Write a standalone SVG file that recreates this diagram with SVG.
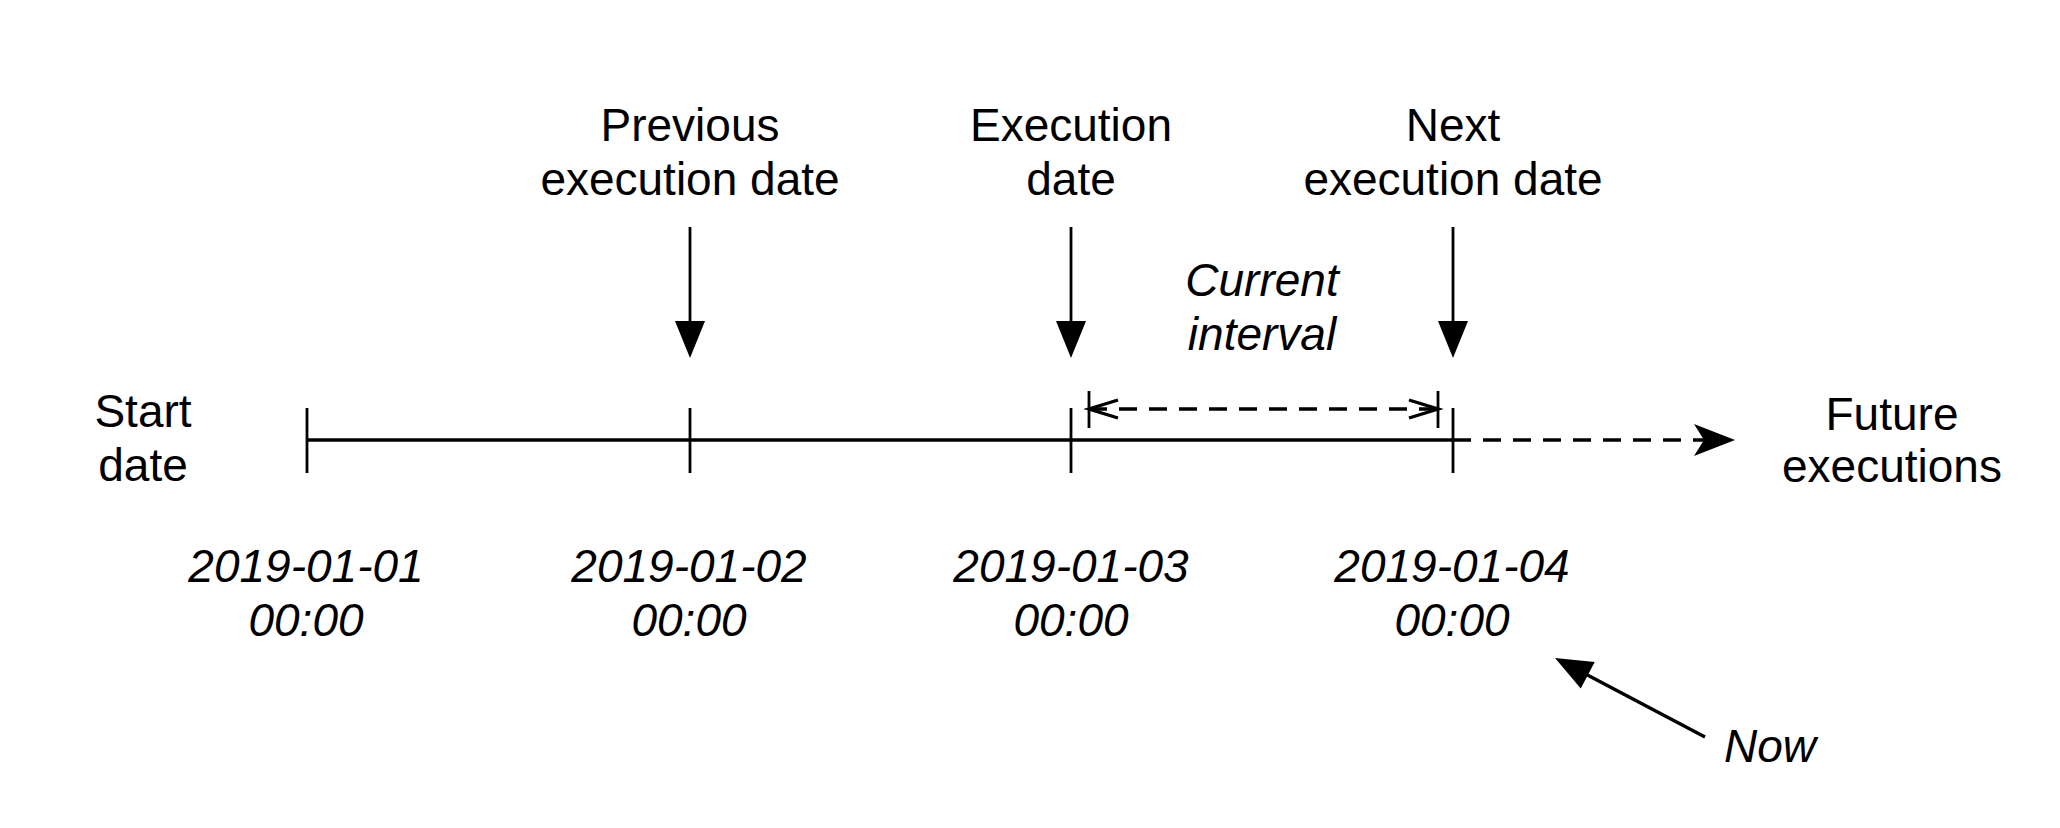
<svg xmlns="http://www.w3.org/2000/svg" width="2060" height="828" viewBox="0 0 2060 828">
  <style>
    .t { font-family: "Liberation Sans", Arial, Helvetica, sans-serif; font-size: 46px; fill: #000; text-anchor: middle; }
    .i { font-style: italic; }
    .ln { stroke: #000; stroke-width: 3.4; fill: none; }
    .stem { stroke: #000; stroke-width: 2.8; fill: none; }
    .dash { stroke-dasharray: 18 12; }
  </style>
  <defs>
    <marker id="tri" markerUnits="userSpaceOnUse" markerWidth="37" markerHeight="30" refX="17" refY="15" orient="auto" overflow="visible">
      <path d="M0,0 L37,15 L0,30 Z" fill="#000"/>
    </marker>
    <marker id="stealth" markerUnits="userSpaceOnUse" markerWidth="41" markerHeight="32" refX="18" refY="16" orient="auto" overflow="visible">
      <path d="M0,0 L41,16 L0,32 L10,16 Z" fill="#000"/>
    </marker>
    <marker id="vee" markerUnits="userSpaceOnUse" markerWidth="31" markerHeight="18" refX="30" refY="9" orient="auto-start-reverse" overflow="visible">
      <path d="M1,0 L30,9 L1,18" fill="none" stroke="#000" stroke-width="3.4" stroke-dasharray="none" stroke-linejoin="miter"/>
    </marker>
  </defs>

  <g id="connectors">
    <!-- timeline -->
    <line class="ln" x1="307" y1="440" x2="1453" y2="440"/>
    <line class="ln dash" x1="1453" y1="440" x2="1712" y2="440" marker-end="url(#stealth)"/>
    <!-- ticks -->
    <line class="stem" x1="307" y1="408" x2="307" y2="473"/>
    <line class="stem" x1="690" y1="408" x2="690" y2="473"/>
    <line class="stem" x1="1071" y1="408" x2="1071" y2="473"/>
    <line class="stem" x1="1453" y1="408" x2="1453" y2="473"/>
    <!-- down arrows -->
    <line class="stem" x1="690" y1="227" x2="690" y2="338" marker-end="url(#tri)"/>
    <line class="stem" x1="1071" y1="227" x2="1071" y2="338" marker-end="url(#tri)"/>
    <line class="stem" x1="1453" y1="227" x2="1453" y2="338" marker-end="url(#tri)"/>
    <!-- current interval -->
    <line class="stem" x1="1089" y1="391" x2="1089" y2="428"/>
    <line class="stem" x1="1438" y1="391" x2="1438" y2="428"/>
    <line class="ln dash" x1="1089" y1="409" x2="1438" y2="409" marker-start="url(#vee)" marker-end="url(#vee)"/>
    <!-- now arrow -->
    <line class="ln" x1="1705" y1="737" x2="1572.7" y2="667.3" marker-end="url(#tri)"/>
  </g>

  <g id="prev-label">
    <text class="t" x="690" y="141">Previous</text>
    <text class="t" x="690" y="195">execution date</text>
  </g>
  <g id="exec-label">
    <text class="t" x="1071" y="141">Execution</text>
    <text class="t" x="1071" y="195">date</text>
  </g>
  <g id="next-label">
    <text class="t" x="1453" y="141">Next</text>
    <text class="t" x="1453" y="195">execution date</text>
  </g>
  <g id="interval-label">
    <text class="t i" x="1262" y="296">Current</text>
    <text class="t i" x="1262" y="350">interval</text>
  </g>
  <g id="start-label">
    <text class="t" x="143" y="427">Start</text>
    <text class="t" x="143" y="481">date</text>
  </g>
  <g id="future-label">
    <text class="t" x="1892" y="430">Future</text>
    <text class="t" x="1892" y="482">executions</text>
  </g>
  <g id="date1">
    <text class="t i" x="306" y="582">2019-01-01</text>
    <text class="t i" x="306" y="636">00:00</text>
  </g>
  <g id="date2">
    <text class="t i" x="689" y="582">2019-01-02</text>
    <text class="t i" x="689" y="636">00:00</text>
  </g>
  <g id="date3">
    <text class="t i" x="1071" y="582">2019-01-03</text>
    <text class="t i" x="1071" y="636">00:00</text>
  </g>
  <g id="date4">
    <text class="t i" x="1452" y="582">2019-01-04</text>
    <text class="t i" x="1452" y="636">00:00</text>
  </g>
  <g id="now-label">
    <text class="t i" x="1770" y="762">Now</text>
  </g>
</svg>
